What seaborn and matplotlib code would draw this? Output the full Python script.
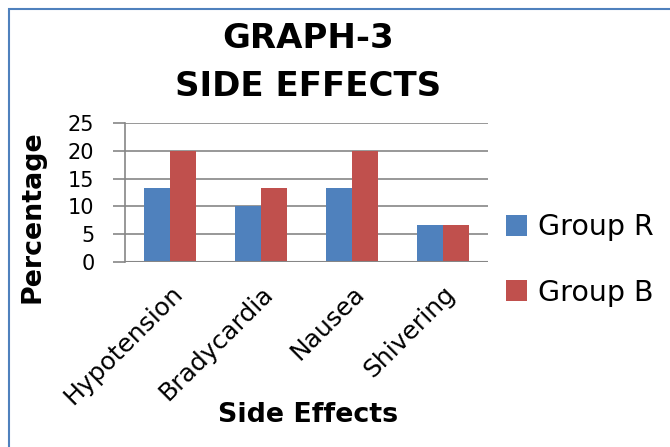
import matplotlib
matplotlib.use("Agg")
import matplotlib.pyplot as plt
import seaborn as sns
import pandas as pd
from matplotlib.patches import Rectangle

categories = ["Hypotension", "Bradycardia", "Nausea", "Shivering"]
group_r = [13.33, 10.0, 13.33, 6.67]
group_b = [20.0, 13.33, 20.0, 6.67]
series = ["Group R", "Group B"]
colors = ["#4F81BD", "#C0504D"]

df = pd.DataFrame({
    "cat": categories * 2,
    "val": group_r + group_b,
    "grp": [series[0]] * 4 + [series[1]] * 4,
})

sns.set_theme(style="white")
plt.rcParams["font.family"] = ["DejaVu Sans"]
plt.rcParams["text.color"] = "black"
plt.rcParams["xtick.color"] = "black"
plt.rcParams["ytick.color"] = "black"

W, H = 670, 447
fig = plt.figure(figsize=(6.7, 4.47), dpi=100)
ax = fig.add_axes([125 / W, 1 - 262 / H, 363 / W, 139 / H])
sns.barplot(data=df, x="cat", y="val", hue="grp", palette=colors,
            width=0.573, saturation=1, ax=ax, legend=True, linewidth=0)

ax.set_ylim(0, 25)
ax.set_yticks([0, 5, 10, 15, 20, 25])
ax.yaxis.grid(True, color="#868686", linewidth=1.2)
ax.set_axisbelow(True)
for s in ["top", "right", "bottom"]:
    ax.spines[s].set_visible(False)
ax.spines["left"].set_color("#868686")
ax.spines["left"].set_linewidth(1.2)
ax.axhline(0, color="#868686", linewidth=1.5, zorder=3)
ax.tick_params(axis="y", length=9, width=1.2, color="#868686", labelcolor="black",
               labelsize=15, pad=13, left=True)
ax.tick_params(axis="x", length=0, labelsize=18, pad=14, labelcolor="black")
plt.setp(ax.get_xticklabels(), rotation=45, ha="right", rotation_mode="anchor")
ax.set_xlabel("")
ax.set_ylabel("")

fig.text(308 / W, 1 - 415 / H, "Side Effects", ha="center", va="center",
         fontsize=19.4, fontweight="bold", color="black")
fig.text(33 / W, 1 - 217 / H, "Percentage", ha="center", va="center",
         fontsize=19.4, fontweight="bold", rotation=90, color="black")

leg = ax.legend(loc="center left", bbox_to_anchor=(506 / W, 1 - 260 / H),
                bbox_transform=fig.transFigure, frameon=False, borderpad=0,
                borderaxespad=0, fontsize=20.5, handlelength=0.72,
                handleheight=0.72, labelspacing=1.3, handletextpad=0.4)
for t in leg.get_texts():
    t.set_color("black")

fig.text(308 / W, 1 - 38 / H, "GRAPH-3", ha="center", va="center",
         fontsize=24.5, fontweight="bold", color="black")
fig.text(308 / W, 1 - 86 / H, "SIDE EFFECTS", ha="center", va="center",
         fontsize=24.5, fontweight="bold", color="black")

fig.patches.append(Rectangle((9 / W, -0.05), 1.2, 1.05 - 9 / H,
                             transform=fig.transFigure, fill=False,
                             edgecolor="#4F81BD", linewidth=1.5))

fig.savefig("out.png", dpi=100)
